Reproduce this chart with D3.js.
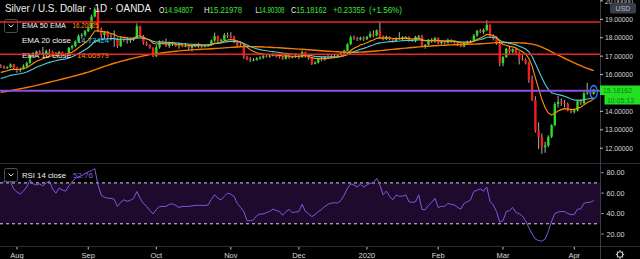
<!DOCTYPE html>
<html>
<head>
<meta charset="utf-8">
<script src="https://cdn.jsdelivr.net/npm/d3@7"></script>
<style>
html, body { margin: 0; padding: 0; background: #000; }
svg { display: block; font-family: "Liberation Sans", Arial, sans-serif; }
</style>
</head>
<body>
<div id="chart"></div>
<script>
// daily bars, 25 Jul 2019 .. 9 Apr 2020 (index based, weekends skipped)
const opens = [
  16.48,16.42,16.35,16.40,16.55,16.34,16.25,16.30,16.45,16.62,
  17.05,17.08,17.25,17.15,17.12,17.28,17.25,17.15,17.10,17.22,
  17.12,17.06,17.45,17.55,17.80,18.10,18.15,18.35,18.52,19.15,
  19.55,18.45,18.15,18.30,18.05,18.02,17.95,17.55,17.95,17.90,
  17.85,17.92,17.98,18.62,18.08,17.72,17.60,17.45,17.00,17.48,
  17.78,17.72,17.55,17.72,17.66,17.55,17.58,17.52,17.55,17.45,
  17.55,17.58,17.56,17.55,17.56,17.60,17.85,18.08,17.82,17.88,
  18.15,18.10,18.02,17.75,17.58,17.55,16.98,16.82,16.78,16.80,
  16.88,16.92,17.02,16.98,17.02,17.08,17.00,16.95,16.85,17.05,
  16.92,16.95,17.00,16.95,17.22,16.98,16.88,16.58,16.65,16.85,
  16.80,16.95,16.92,17.00,16.98,17.05,17.15,17.30,17.65,18.02,
  17.95,17.90,18.00,17.92,18.05,18.20,18.12,18.40,18.10,17.92,
  18.05,17.95,17.82,17.98,17.92,18.02,18.05,17.85,17.82,18.05,
  18.08,17.55,17.62,17.88,17.80,17.98,17.70,17.78,17.72,17.88,
  17.78,17.75,17.62,17.52,17.70,17.78,17.82,18.12,18.38,18.30,
  18.42,18.70,18.08,17.95,17.70,16.62,16.95,17.40,17.25,17.38,
  17.15,16.85,16.80,16.62,15.72,14.62,12.95,12.60,12.05,12.15,
  12.62,13.25,14.40,14.52,14.45,14.40,14.05,13.98,14.05,14.55,
  14.45,14.98,15.02,14.94807
];
const highs = [
  16.56,16.50,16.45,16.60,16.58,16.42,16.38,16.55,16.70,17.12,
  17.20,17.30,17.32,17.50,17.35,17.38,17.30,17.22,17.28,17.25,
  17.18,17.50,17.62,17.85,18.18,18.25,18.42,18.60,19.25,19.65,
  19.60,18.55,18.35,18.38,18.20,18.40,18.00,18.05,18.02,18.05,
  17.95,18.02,18.78,18.66,18.15,17.80,17.65,17.48,17.60,17.85,
  17.85,17.95,17.80,17.78,17.70,17.62,17.66,17.70,17.58,17.62,
  17.65,17.72,17.65,17.62,17.66,17.90,18.28,18.12,17.95,18.25,
  18.28,18.30,18.10,17.85,17.70,17.60,17.02,16.95,16.90,16.95,
  17.00,17.05,17.10,17.08,17.15,17.12,17.05,17.00,17.12,17.08,
  17.00,17.15,17.08,17.30,17.25,17.05,16.92,16.72,16.90,16.98,
  17.02,17.10,17.05,17.08,17.10,17.20,17.35,17.70,18.12,18.12,
  18.05,18.05,18.08,18.10,18.35,18.40,18.45,18.87,18.12,18.12,
  18.08,17.98,18.02,18.30,18.08,18.08,18.08,17.92,18.10,18.15,
  18.15,17.65,17.92,17.98,18.05,18.02,17.82,17.85,17.95,17.92,
  17.85,17.78,17.68,17.75,17.85,17.88,18.20,18.42,18.48,18.50,
  18.95,18.72,18.18,18.05,17.72,17.00,17.45,17.50,17.42,17.45,
  17.25,17.05,16.88,16.70,15.95,14.82,13.40,12.80,12.35,12.70,
  13.30,14.50,14.85,14.70,14.62,14.48,14.15,14.15,14.60,14.65,
  15.05,15.55,15.10,15.21978
];
const lows = [
  16.36,16.30,16.30,16.36,16.25,16.10,16.12,16.28,16.40,16.60,
  16.95,17.02,17.10,17.05,17.08,17.15,17.08,17.05,17.05,17.05,
  17.02,17.04,17.35,17.48,17.75,17.95,18.05,18.30,18.45,19.10,
  18.30,17.95,17.95,18.00,17.85,17.50,17.45,17.50,17.78,17.68,
  17.72,17.82,17.95,18.05,17.62,17.55,17.40,16.95,16.95,17.40,
  17.62,17.50,17.45,17.55,17.50,17.40,17.48,17.48,17.30,17.25,
  17.48,17.45,17.45,17.48,17.50,17.55,17.78,17.75,17.72,17.80,
  17.98,17.95,17.70,17.50,17.50,16.85,16.78,16.68,16.72,16.75,
  16.80,16.85,16.92,16.90,16.98,16.92,16.88,16.80,16.82,16.85,
  16.88,16.90,16.85,16.90,16.92,16.80,16.52,16.55,16.60,16.72,
  16.76,16.85,16.88,16.92,16.95,17.02,17.10,17.28,17.60,17.88,
  17.82,17.85,17.82,17.88,17.98,18.02,18.08,17.98,17.85,17.88,
  17.85,17.75,17.78,17.88,17.85,17.95,17.78,17.78,17.75,17.90,
  17.48,17.40,17.58,17.72,17.72,17.65,17.62,17.65,17.68,17.72,
  17.68,17.55,17.48,17.48,17.65,17.72,17.78,18.05,18.25,18.20,
  18.35,18.00,17.85,17.62,16.45,16.45,16.90,17.15,17.15,17.05,
  16.55,16.75,16.55,15.55,14.55,12.85,11.95,11.70,11.75,12.05,
  12.55,13.20,14.20,14.30,14.22,14.00,13.90,13.88,14.00,14.35,
  14.40,14.90,14.85,14.90308
];
const closes = [
  16.42,16.35,16.40,16.55,16.34,16.25,16.30,16.45,16.62,17.05,
  17.08,17.25,17.15,17.12,17.28,17.25,17.15,17.10,17.22,17.12,
  17.06,17.45,17.55,17.80,18.10,18.15,18.35,18.52,19.15,19.55,
  18.45,18.15,18.30,18.05,18.02,17.95,17.55,17.95,17.90,17.85,
  17.92,17.98,18.62,18.08,17.72,17.60,17.45,17.00,17.48,17.78,
  17.72,17.55,17.72,17.66,17.55,17.58,17.52,17.55,17.45,17.55,
  17.58,17.56,17.55,17.56,17.60,17.85,18.08,17.82,17.88,18.15,
  18.10,18.02,17.75,17.58,17.55,16.98,16.82,16.78,16.80,16.88,
  16.92,17.02,16.98,17.02,17.08,17.00,16.95,16.85,17.05,16.92,
  16.95,17.00,16.95,17.22,16.98,16.88,16.58,16.65,16.85,16.80,
  16.95,16.92,17.00,16.98,17.05,17.15,17.30,17.65,18.02,17.95,
  17.90,18.00,17.92,18.05,18.20,18.12,18.40,18.10,17.92,18.05,
  17.95,17.82,17.98,17.92,18.02,18.05,17.85,17.82,18.05,18.08,
  17.55,17.62,17.88,17.80,17.98,17.70,17.78,17.72,17.88,17.78,
  17.75,17.62,17.52,17.70,17.78,17.82,18.12,18.38,18.30,18.42,
  18.70,18.08,17.95,17.70,16.62,16.95,17.40,17.25,17.38,17.15,
  16.85,16.80,16.62,15.72,14.62,12.95,12.60,12.05,12.15,12.62,
  13.25,14.40,14.52,14.45,14.40,14.05,13.98,14.05,14.55,14.45,
  14.98,15.02,14.95,15.18162
];
// RSI 14
const rsi = [
  70,71,72,71,64,61,59,62,66,73,
  69,68,69,67,70,72,64,60,65,63,
  62,67,71,74.5,76,77,79,81,82,84,
  68,58,56,55,55,54,47,51,53.5,52,
  53,55,61.6,55,50,47,43,39.6,44,47,
  47,47,49,49.5,48,46,47,47,47,47.5,
  48,48,48,48,48.5,54,58.4,55,53.5,57,
  60,59,56.7,50,46,42,33,33,34,38,
  39.6,39.6,41,42,44.4,43,42,38.3,42,44,
  41,41.5,42,49,42,40,37,39,42,44,
  47,49,50.3,50.5,50.3,53,58,65,69,68,
  66,68.7,66,68,69.7,69.7,74.5,68,58.4,62,
  57,53.5,58,57,57,58.4,51.5,51,51.5,58.4,
  44,43.8,48,51,55,46,47,47,50,49,
  48.5,46,44.4,50,51.5,53.5,61.6,63,64,62,
  66,52,48.5,42,31.8,33,42,43,46,41,
  40,37.5,33,26,20,15,13.5,13,15,22.7,
  32.4,40,41.5,42,42,40,39,39,44.4,44.4,
  50,51,51,52.76
];

const monthLabels = ["Aug", "Sep", "Oct", "Nov", "Dec", "2020", "Feb", "Mar", "Apr"];
const monthIndex = [5, 27, 48, 71, 92, 113, 135, 155, 177];
const priceTicks = [20, 19, 18, 17, 16, 14, 13, 12];
const rsiTicks = [80, 60, 40, 20];
const redLevels = [18.85, 17.1];
const purpleLevel = 15.12;
// EMA values carried in from before the first visible bar
const ema10Start = 16.05, ema20Start = 15.72, ema50Start = 15.0;

const W = 640, H = 259, axisX = 600, paneBottom = 163, rsiBottom = 246;

const svg = d3.select("#chart").append("svg").attr("width", W).attr("height", H);
svg.append("rect").attr("width", W).attr("height", H).attr("fill", "#000");

const x = d3.scaleLinear().domain([0, closes.length - 1]).range([0.8, 593.7]);
const y = d3.scaleLinear().domain([12, 19]).range([148.2, 19.3]);
const yr = d3.scaleLinear().domain([20, 80]).range([234, 172.7]);

svg.append("clipPath").attr("id", "mainClip")
  .append("rect").attr("x", 0).attr("y", 0).attr("width", axisX).attr("height", paneBottom);
svg.append("clipPath").attr("id", "rsiClip")
  .append("rect").attr("x", 0).attr("y", paneBottom + 1).attr("width", axisX).attr("height", rsiBottom - paneBottom - 1);

function ema(values, period, start) {
  const k = 2 / (period + 1);
  let prev = start;
  return values.map(v => (prev = v * k + prev * (1 - k)));
}
const ema10 = ema(closes, 10, ema10Start);
const ema20 = ema(closes, 20, ema20Start);
// "EMA 50 EMA": the 50 EMA takes the 20 EMA as its source
const ema50 = ema(ema20, 50, ema50Start);

// ---- main pane
const main = svg.append("g").attr("clip-path", "url(#mainClip)");
const bars = d3.range(closes.length);

main.selectAll(".wick").data(bars).enter().append("line")
  .attr("x1", i => x(i)).attr("x2", i => x(i))
  .attr("y1", i => y(highs[i])).attr("y2", i => y(lows[i]))
  .attr("stroke", "#dcdcdc").attr("stroke-width", 0.8);

main.selectAll(".body").data(bars).enter().append("rect")
  .attr("x", i => x(i) - 1.2)
  .attr("width", 2.4)
  .attr("y", i => y(Math.max(opens[i], closes[i])))
  .attr("height", i => Math.max(0.8, Math.abs(y(opens[i]) - y(closes[i]))))
  .attr("fill", i => closes[i] >= opens[i] ? "#22e022" : "#f21c1c");

const lineGen = vals => d3.line().x((d, i) => x(i)).y(d => y(d))(vals);
main.append("path").attr("d", lineGen(ema50)).attr("fill", "none").attr("stroke", "#f57c00").attr("stroke-width", 1.4);
main.append("path").attr("d", lineGen(ema20)).attr("fill", "none").attr("stroke", "#4dd0e1").attr("stroke-width", 1.1);
main.append("path").attr("d", lineGen(ema10)).attr("fill", "none").attr("stroke", "#ff9800").attr("stroke-width", 1.1);

// ---- legend (top left)
function txt(g, px, py, s, size, color, len, anchor) {
  const t = g.append("text").attr("x", px).attr("y", py).text(s)
    .attr("font-size", size).attr("fill", color);
  if (len) t.attr("textLength", len).attr("lengthAdjust", "spacingAndGlyphs");
  if (anchor) t.attr("text-anchor", anchor);
  return t;
}
// label letter in white followed by its value in green, one text element
function ohlc(g, px, letter, value, len) {
  const t = g.append("text").attr("x", px).attr("y", 12.5).attr("font-size", 8.5)
    .attr("font-family", '"Liberation Sans Narrow", "Liberation Sans", Arial, sans-serif')
    .attr("textLength", len).attr("lengthAdjust", "spacingAndGlyphs");
  t.append("tspan").attr("fill", "#f0f0f0").text(letter);
  t.append("tspan").attr("fill", "#3ee23e").text(value);
}
const lg = svg.append("g");
txt(lg, 5, 12, "Silver / U.S. Dollar · 1D · OANDA", 10.5, "#f0f0f0", 146);
ohlc(lg, 159, "O", "14.94807", 34);
ohlc(lg, 204, "H", "15.21978", 38);
ohlc(lg, 255.5, "L", "14.90308", 29);
ohlc(lg, 291, "C", "15.18162", 35.5);
txt(lg, 333, 12.5, "+0.23355", 8.5, "#3ee23e", 32);
txt(lg, 369, 12.5, "(+1.56%)", 8.5, "#3ee23e", 33);

function chevronBox(g, bx, by) {
  g.append("rect").attr("x", bx + 0.5).attr("y", by + 0.5).attr("width", 13).attr("height", 13)
    .attr("rx", 2).attr("fill", "#000").attr("stroke", "#4c505b");
  g.append("path").attr("d", `M${bx + 4.5},${by + 5.5} L${bx + 7},${by + 8} L${bx + 9.5},${by + 5.5}`)
    .attr("fill", "none").attr("stroke", "#e0e0e0").attr("stroke-width", 1);
}
chevronBox(lg, 4, 19);
txt(lg, 22, 27.5, "EMA 50 EMA", 7.5, "#f0f0f0", 44);
txt(lg, 72.5, 27.5, "16.20925", 7.5, "#ff9800", 26);
txt(lg, 22, 42.8, "EMA 20 close", 7.5, "#f0f0f0", 49);
txt(lg, 77, 42.8, "14.73424", 7.5, "#4dd0e1", 32);
txt(lg, 22, 57.9, "EMA 10 close", 7.5, "#f0f0f0", 49);
txt(lg, 77, 57.9, "14.66979", 7.5, "#ff9800", 32);

// ---- horizontal levels
const lv = svg.append("g");
redLevels.forEach(p => {
  lv.append("line").attr("x1", 0).attr("x2", axisX).attr("y1", y(p)).attr("y2", y(p))
    .attr("stroke", "#f02424").attr("stroke-width", 1.5);
});
lv.append("line").attr("x1", 0).attr("x2", axisX).attr("y1", y(purpleLevel)).attr("y2", y(purpleLevel))
  .attr("stroke", "#8b50e6").attr("stroke-width", 2.2);

// circle drawn around the last bar
svg.append("ellipse").attr("cx", x(closes.length - 1)).attr("cy", 92).attr("rx", 3.6).attr("ry", 6.5)
  .attr("fill", "none").attr("stroke", "#2979ff").attr("stroke-width", 1.3);

// ---- RSI pane
const rp = svg.append("g").attr("clip-path", "url(#rsiClip)");
rp.append("rect").attr("x", 0).attr("width", axisX).attr("y", yr(70)).attr("height", yr(30) - yr(70))
  .attr("fill", "#1d0a2c");
[70, 30].forEach(v => {
  rp.append("line").attr("x1", 0).attr("x2", axisX).attr("y1", yr(v)).attr("y2", yr(v))
    .attr("stroke", "#d8d8e8").attr("stroke-width", 1).attr("stroke-dasharray", "3,3");
});
rp.append("path").attr("d", d3.line().x((d, i) => x(i)).y(d => yr(d))(rsi))
  .attr("fill", "none").attr("stroke", "#8356e0").attr("stroke-width", 1);

chevronBox(svg, 4, 168);
txt(svg, 22, 178, "RSI 14 close", 7.5, "#f0f0f0", 44);
txt(svg, 72.7, 178, "52.76", 7.5, "#8356e0", 20.5);

// ---- frame lines
svg.append("line").attr("x1", 0).attr("x2", W).attr("y1", paneBottom + 0.5).attr("y2", paneBottom + 0.5)
  .attr("stroke", "#2a2d35");
svg.append("line").attr("x1", 0).attr("x2", W).attr("y1", rsiBottom + 0.5).attr("y2", rsiBottom + 0.5)
  .attr("stroke", "#2a2d35");
svg.append("line").attr("x1", axisX + 0.5).attr("x2", axisX + 0.5).attr("y1", 0).attr("y2", H)
  .attr("stroke", "#3a3d46");

// ---- price axis
const ax = svg.append("g");
priceTicks.forEach(p => {
  ax.append("line").attr("x1", axisX).attr("x2", axisX + 3).attr("y1", y(p)).attr("y2", y(p)).attr("stroke", "#bfc2ca");
  txt(ax, 605, y(p) + 2.6, p.toFixed(5), 7.3, "#d6d8de", 28);
});
rsiTicks.forEach(v => {
  ax.append("line").attr("x1", axisX + 1.5).attr("x2", axisX + 3.5).attr("y1", yr(v)).attr("y2", yr(v)).attr("stroke", "#bfc2ca");
  txt(ax, 606.5, yr(v) + 2.6, v.toFixed(2), 7.3, "#d6d8de", 18);
});

// USD badge
ax.append("rect").attr("x", 610).attr("y", 3).attr("width", 26).attr("height", 10.5).attr("rx", 2).attr("fill", "#3a3e49");
txt(ax, 623, 11.2, "USD", 7, "#b8bbc4", null, "middle");

// last price label
ax.append("rect").attr("x", 600).attr("y", 85.5).attr("width", 40).attr("height", 9.5).attr("fill", "#22e022");
ax.append("rect").attr("x", 604.5).attr("y", 95).attr("width", 35.5).attr("height", 9.5).attr("fill", "#22e022");
txt(ax, 603, 93, "15.18162", 7.3, "#128012", 29);
txt(ax, 607, 102.5, "10:05:13", 7.3, "#128012", 27);

// ---- time axis
monthLabels.forEach((m, k) => {
  const mx = x(monthIndex[k]);
  svg.append("line").attr("x1", mx).attr("x2", mx).attr("y1", rsiBottom + 1).attr("y2", rsiBottom + 3.5).attr("stroke", "#bfc2ca");
  txt(svg, mx, 258.4, m, 7.5, "#d6d8de", null, "middle");
});

// settings gear
const gear = svg.append("g").attr("transform", "translate(620,254.5)");
gear.append("circle").attr("r", 2.8).attr("fill", "none").attr("stroke", "#c8cad0").attr("stroke-width", 1.1);
d3.range(8).forEach(k => {
  const a = k * Math.PI / 4;
  gear.append("line").attr("x1", Math.cos(a) * 2.8).attr("y1", Math.sin(a) * 2.8)
    .attr("x2", Math.cos(a) * 4.2).attr("y2", Math.sin(a) * 4.2)
    .attr("stroke", "#c8cad0").attr("stroke-width", 1.1);
});
</script>
</body>
</html>
